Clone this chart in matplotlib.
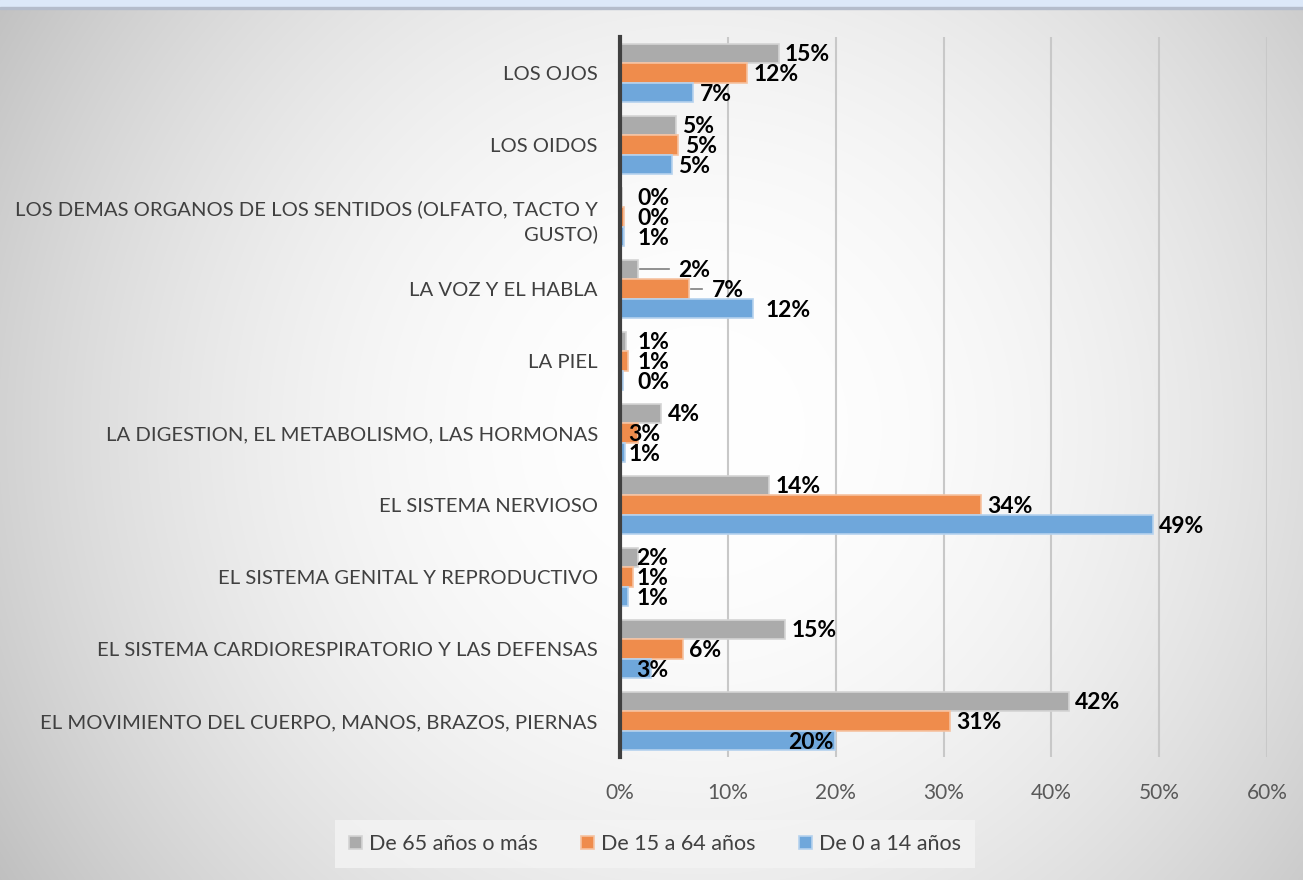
import numpy as np
import matplotlib
matplotlib.use("Agg")
import matplotlib.pyplot as plt
from matplotlib.patches import Rectangle

plt.rcParams['font.family'] = ['Lato', 'DejaVu Sans']

categories = [
    "LOS OJOS",
    "LOS OIDOS",
    "LOS DEMAS ORGANOS DE LOS SENTIDOS (OLFATO, TACTO Y\nGUSTO)",
    "LA VOZ Y EL HABLA",
    "LA PIEL",
    "LA DIGESTION, EL METABOLISMO, LAS HORMONAS",
    "EL SISTEMA NERVIOSO",
    "EL SISTEMA GENITAL Y REPRODUCTIVO",
    "EL SISTEMA CARDIORESPIRATORIO Y LAS DEFENSAS",
    "EL MOVIMIENTO DEL CUERPO, MANOS, BRAZOS, PIERNAS",
]
series_names = ["De 65 años o más", "De 15 a 64 años", "De 0 a 14 años"]
vals_65 = [14.7, 5.2, 0.2, 1.7, 0.6, 3.8, 13.8, 1.7, 15.3, 41.6]
vals_15 = [11.8, 5.4, 0.4, 6.4, 0.7, 1.7, 33.5, 1.2, 5.8, 30.6]
vals_0 = [6.8, 4.8, 0.4, 12.3, 0.3, 0.5, 49.4, 0.7, 2.9, 19.9]
labels_65 = ["15%", "5%", "0%", "2%", "1%", "4%", "14%", "2%", "15%", "42%"]
labels_15 = ["12%", "5%", "0%", "7%", "1%", "3%", "34%", "1%", "6%", "31%"]
labels_0 = ["7%", "5%", "1%", "12%", "0%", "1%", "49%", "1%", "3%", "20%"]
xticks = [0, 10, 20, 30, 40, 50, 60]

colors = ["#ababab", "#ef8c4c", "#6fa7db"]
edgecolors = ["#d4d4d4", "#f6c2a0", "#b5d2ee"]

W, H = 1303, 880
fig = plt.figure(figsize=(W / 100, H / 100), dpi=100)

# background radial gradient
bg = fig.add_axes([0, 0, 1, 1], zorder=-10)
yy, xx = np.mgrid[0:H, 0:W]
d = np.sqrt((xx - 700) ** 2 + (yy - 430) ** 2) / 850
g = 255 - 66 * np.clip(d, 0, 1.1) ** 2
img = np.dstack([g, g, g]) / 255
bg.imshow(img, extent=[0, W, H, 0], aspect='auto')
bg.add_patch(Rectangle((0, 0), W, 7, color="#dce8f8"))
bg.add_patch(Rectangle((0, 7), W, 2, color="#b4bccb"))
bg.set_xlim(0, W)
bg.set_ylim(H, 0)
bg.axis('off')

ax = fig.add_axes([620 / W, 1 - 757 / H, (1267 - 620) / W, 720 / H])
ax.patch.set_alpha(0)
n = len(categories)
y = np.arange(n)
bh = 0.272
all_vals = [vals_65, vals_15, vals_0]
all_labels = [labels_65, labels_15, labels_0]
offsets = [-bh, 0, bh]
for k in range(3):
    ax.barh(y + offsets[k], all_vals[k], height=bh, color=colors[k],
            edgecolor=edgecolors[k], linewidth=1.2, zorder=3)

ax.set_ylim(n - 0.5, -0.5)
ax.set_xlim(0, 60)
ax.set_xticks(xticks)
ax.set_xticklabels([f"{t}%" for t in xticks], fontsize=15, color="#595959")
ax.set_yticks(y)
ax.set_yticklabels(categories, fontsize=14.6, color="#404040")
ax.tick_params(axis='both', length=0)
ax.tick_params(axis='x', pad=19)
ax.tick_params(axis='y', pad=16)
for lab in ax.get_yticklabels():
    lab.set_multialignment('right')
    lab.set_linespacing(1.45)
ax.grid(axis='x', color="#c8c8c8", linewidth=1.5, zorder=0)
ax.set_axisbelow(True)
for s in ['top', 'right', 'bottom']:
    ax.spines[s].set_visible(False)
ax.spines['left'].set_color("#404040")
ax.spines['left'].set_linewidth(3)
ax.spines['left'].set_zorder(5)

# data labels
pad = 0.6
for k in range(3):
    for i in range(n):
        v = all_vals[k][i]
        yc = i + offsets[k]
        x = max(v, 1.0) + pad
        ha = 'left'
        cat = categories[i]
        if cat.startswith("LA DIGESTION") and k > 0:
            x = 0.75
        if cat.startswith("EL SISTEMA GENITAL"):
            x = 1.5
        if cat.startswith("EL SISTEMA CARDIO") and k == 2:
            x = 1.5
        if cat.startswith("EL MOVIMIENTO") and k == 2:
            x = v - 0.1
            ha = 'right'
        if cat.startswith("LA VOZ"):
            if k == 0:
                x = 5.4
                ax.plot([v + 0.2, 4.5], [yc, yc], color="#7f7f7f", lw=1.2, zorder=4)
            elif k == 1:
                x = 8.5
                ax.plot([v + 0.2, 7.6], [yc, yc], color="#7f7f7f", lw=1.2, zorder=4)
            else:
                x = v + 1.2
        ax.text(x, yc + 0.02, all_labels[k][i], ha=ha, va='center', fontsize=16.5,
                fontweight='bold', color="#000000", zorder=6)

handles = [Rectangle((0, 0), 1, 1, facecolor=colors[k], edgecolor=edgecolors[k], lw=1.2)
           for k in range(3)]
leg = fig.legend(handles, series_names, loc='center', bbox_to_anchor=(655 / W, 1 - 844 / H),
                 ncol=3, frameon=True, fontsize=15.5, handlelength=0.6, handleheight=0.6,
                 handletextpad=0.35, columnspacing=2.0, borderpad=0.65, fancybox=False,
                 borderaxespad=0)
leg.get_frame().set_facecolor("#f4f4f4")
leg.get_frame().set_edgecolor("none")
for t in leg.get_texts():
    t.set_color("#404040")

fig.savefig("out.png", dpi=100)
